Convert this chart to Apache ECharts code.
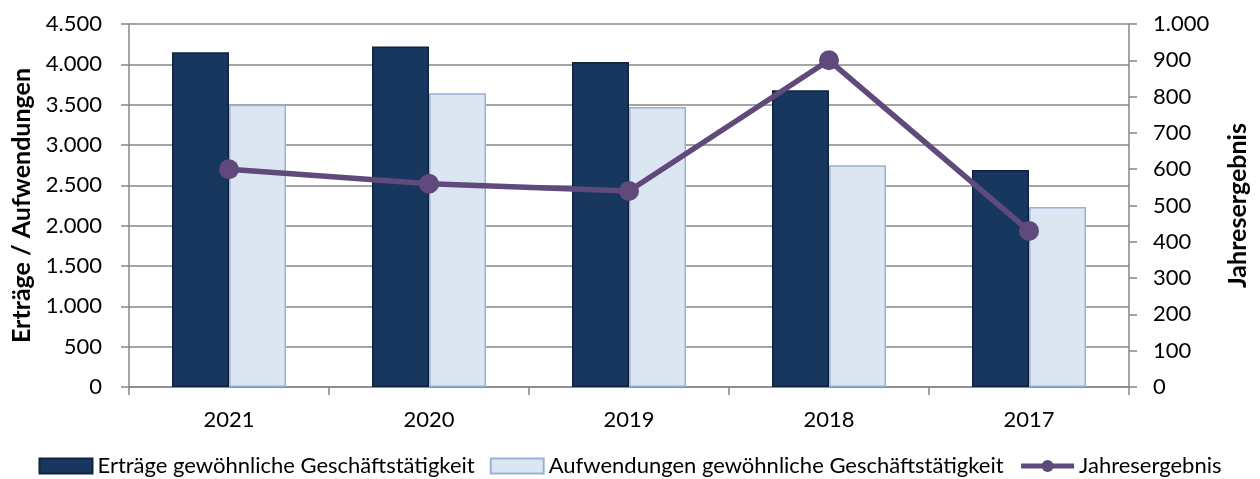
<!DOCTYPE html>
<html>
<head>
<meta charset="utf-8">
<script src="https://cdn.jsdelivr.net/npm/echarts@6/dist/echarts.min.js"></script>
<style>
  html, body { margin: 0; padding: 0; background: #fff; }
  #chart { width: 1260px; height: 479px; }
</style>
</head>
<body>
<div id="chart"></div>
<script>
  // Daten
  var jahre = ['2021', '2020', '2019', '2018', '2017']
  var ertraege = [4150, 4220, 4030, 3680, 2690]
  var aufwendungen = [3500, 3640, 3470, 2750, 2230]
  var jahresergebnis = [600, 560, 540, 900, 430]

  var font = 'Lato, "Open Sans", sans-serif'

  // Tausenderpunkt wie im Original
  function fmt(v) {
    return String(v).replace(/\B(?=(\d{3})+(?!\d))/g, '.')
  }

  var myChart = echarts.init(document.getElementById('chart'))
  var option = {
    animation: false,
    textStyle: { fontFamily: font },
    grid: {
      left: 129,
      right: 131,
      top: 24,
      bottom: 92
    },
    legend: {
      top: 450,
      left: 'center',
      itemWidth: 53,
      itemHeight: 15,
      itemGap: 15,
      textStyle: { fontSize: 22, color: '#000', fontFamily: font },
      data: [
        { name: 'Erträge gewöhnliche Geschäftstätigkeit', icon: 'rect' },
        { name: 'Aufwendungen gewöhnliche Geschäftstätigkeit', icon: 'rect' },
        { name: 'Jahresergebnis', lineStyle: { width: 5 } }
      ]
    },
    xAxis: {
      type: 'category',
      data: jahre,
      axisLine: { lineStyle: { color: '#868686', width: 1.5 } },
      axisTick: { show: true, length: 8, lineStyle: { color: '#868686', width: 1.5 } },
      axisLabel: { fontSize: 22, color: '#000', margin: 22 }
    },
    yAxis: [
      {
        type: 'value',
        min: 0,
        max: 4500,
        interval: 500,
        name: 'Erträge / Aufwendungen',
        nameLocation: 'middle',
        nameRotate: 90,
        nameGap: 94,
        nameTextStyle: { fontSize: 25, fontWeight: 'bold', color: '#000' },
        axisLine: { show: true, lineStyle: { color: '#868686', width: 1.5 } },
        axisTick: { show: true, length: 8, lineStyle: { color: '#868686', width: 1.5 } },
        axisLabel: { fontSize: 22, color: '#000', margin: 27, formatter: fmt },
        splitLine: { lineStyle: { color: '#868686', width: 1.5 } }
      },
      {
        type: 'value',
        min: 0,
        max: 1000,
        interval: 100,
        name: 'Jahresergebnis',
        nameLocation: 'middle',
        nameRotate: 90,
        nameGap: 96,
        nameTextStyle: { fontSize: 25, fontWeight: 'bold', color: '#000' },
        axisLine: { show: true, lineStyle: { color: '#868686', width: 1.5 } },
        axisTick: { show: true, length: 8, lineStyle: { color: '#868686', width: 1.5 } },
        axisLabel: { fontSize: 22, color: '#000', margin: 24, formatter: fmt },
        splitLine: { show: false }
      }
    ],
    series: [
      {
        name: 'Erträge gewöhnliche Geschäftstätigkeit',
        type: 'bar',
        data: ertraege,
        barWidth: 57,
        barGap: '0%',
        itemStyle: { color: '#17375E', borderColor: '#0F243E', borderWidth: 1.5 }
      },
      {
        name: 'Aufwendungen gewöhnliche Geschäftstätigkeit',
        type: 'bar',
        data: aufwendungen,
        barWidth: 57,
        barGap: '0%',
        itemStyle: { color: '#DCE6F2', borderColor: '#95B3D7', borderWidth: 1.5 }
      },
      {
        name: 'Jahresergebnis',
        type: 'line',
        yAxisIndex: 1,
        data: jahresergebnis,
        symbol: 'circle',
        symbolSize: 20,
        lineStyle: { color: '#604A7B', width: 5.5 },
        itemStyle: { color: '#604A7B' },
        z: 5
      }
    ]
  }
  myChart.setOption(option)
</script>
</body>
</html>
